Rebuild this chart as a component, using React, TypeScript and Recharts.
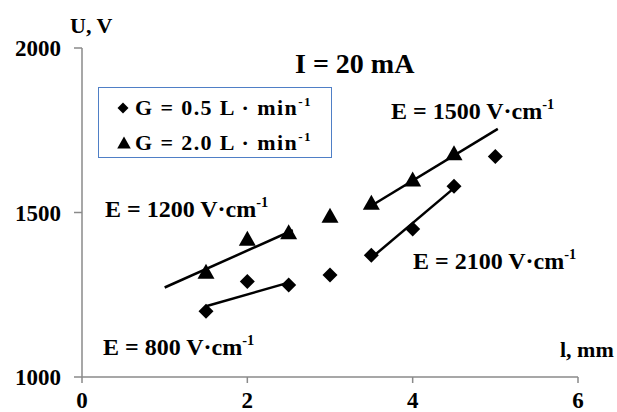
import { ComposedChart, Scatter, XAxis, YAxis, ReferenceLine, Legend } from 'recharts'

// G = 0.5 L/min (diamonds)
const lengthsLow = [1.5, 2, 2.5, 3, 3.5, 4, 4.5, 5]
const voltageLow = [1200, 1290, 1280, 1310, 1370, 1450, 1580, 1670]
// G = 2.0 L/min (triangles)
const lengthsHigh = [1.5, 2, 2.5, 3, 3.5, 4, 4.5]
const voltageHigh = [1320, 1420, 1440, 1490, 1530, 1600, 1680]

const xTicks = [0, 2, 4, 6]
const yTicks = [1000, 1500, 2000]

// fitted lines: [x, U] start and end
const fit800 = [[1.5, 1215], [2.5, 1287]]
const fit1200 = [[1.0, 1272], [2.55, 1446]]
const fit1500 = [[3.45, 1513], [5.03, 1754]]
const fit2100 = [[3.5, 1362], [4.5, 1574]]
const fits = [fit800, fit1200, fit1500, fit2100]

const lowData = lengthsLow.map((l, i) => ({ l, u: voltageLow[i] }))
const highData = lengthsHigh.map((l, i) => ({ l, u: voltageHigh[i] }))

const font = '"Liberation Serif", "Times New Roman", serif'
const axisGray = '#8a8a8a'

const Diamond = (p: any) => {
  const r = p.r ?? 7.5
  return (
    <path
      d={`M${p.cx},${p.cy - r}L${p.cx + r},${p.cy}L${p.cx},${p.cy + r}L${p.cx - r},${p.cy}Z`}
      fill='#000'
    />
  )
}

const Triangle = (p: any) => {
  const k = p.k ?? 1
  return (
    <path
      d={`M${p.cx},${p.cy - 8 * k}L${p.cx + 8.5 * k},${p.cy + 7 * k}L${p.cx - 8.5 * k},${p.cy + 7 * k}Z`}
      fill='#000'
    />
  )
}

const Sup = () => <sup style={{ fontSize: '0.6em', verticalAlign: '0.7em' }}>-1</sup>

function LegendBox() {
  const row = {
    position: 'absolute' as const,
    left: 36,
    whiteSpace: 'nowrap' as const,
    lineHeight: 1,
    letterSpacing: 1.4,
  }
  return (
    <div
      style={{
        width: 234,
        height: 71,
        boxSizing: 'border-box',
        border: '1.5px solid #4f7fc6',
        position: 'relative',
        fontFamily: font,
        fontWeight: 'bold',
        fontSize: 22,
        background: '#fff',
      }}
    >
      <svg width={34} height={71} style={{ position: 'absolute', left: 0, top: 0 }}>
        <Diamond cx={24} cy={20} r={5.5} />
        <Triangle cx={25} cy={55} k={0.8} />
      </svg>
      <span style={{ ...row, top: 7 }}>
        G = 0.5 L · min<Sup />
      </span>
      <span style={{ ...row, top: 42 }}>
        G = 2.0 L · min<Sup />
      </span>
    </div>
  )
}

function Note({ left, top, size = 24, children }: any) {
  return (
    <div
      style={{
        position: 'absolute',
        left,
        top,
        fontFamily: font,
        fontWeight: 'bold',
        fontSize: size,
        lineHeight: 1,
        whiteSpace: 'nowrap',
        color: '#000',
      }}
    >
      {children}
    </div>
  )
}

export default function App() {
  const tick = { fill: '#000', fontSize: 23, fontWeight: 'bold', fontFamily: font }
  return (
    <div style={{ position: 'absolute', left: 0, top: 0, width: 617, height: 412, background: '#fff' }}>
      <ComposedChart width={617} height={412} margin={{ top: 48, right: 39, left: 0, bottom: 0 }}>
        <XAxis
          type='number'
          dataKey='l'
          domain={[0, 6]}
          ticks={xTicks}
          height={35}
          tickSize={6}
          tickMargin={9}
          stroke={axisGray}
          strokeWidth={1.5}
          tick={tick}
        />
        <YAxis
          type='number'
          dataKey='u'
          domain={[1000, 2000]}
          ticks={yTicks}
          width={82}
          tickSize={8}
          tickMargin={13}
          stroke={axisGray}
          strokeWidth={1.5}
          tick={tick}
        />
        {fits.map((f, i) => (
          <ReferenceLine
            key={i}
            segment={[{ x: f[0][0], y: f[0][1] }, { x: f[1][0], y: f[1][1] }]}
            stroke='#000'
            strokeWidth={2.5}
          />
        ))}
        <Scatter name='G = 0.5' data={lowData} shape={Diamond} isAnimationActive={false} />
        <Scatter name='G = 2.0' data={highData} shape={Triangle} isAnimationActive={false} />
        <Legend
          layout='vertical'
          align='center'
          verticalAlign='middle'
          wrapperStyle={{ left: 98, top: 87, width: 234, height: 71 }}
          content={() => <LegendBox />}
        />
      </ComposedChart>
      <Note left={70} top={15} size={22}>U, V</Note>
      <Note left={295} top={50} size={28}>I = 20 mA</Note>
      <Note left={560} top={339} size={22}>l, mm</Note>
      <Note left={105} top={195}>E = 1200 V·cm<Sup /></Note>
      <Note left={103} top={333}>E = 800 V·cm<Sup /></Note>
      <Note left={391} top={97}>E = 1500 V·cm<Sup /></Note>
      <Note left={413} top={247}>E = 2100 V·cm<Sup /></Note>
    </div>
  )
}
